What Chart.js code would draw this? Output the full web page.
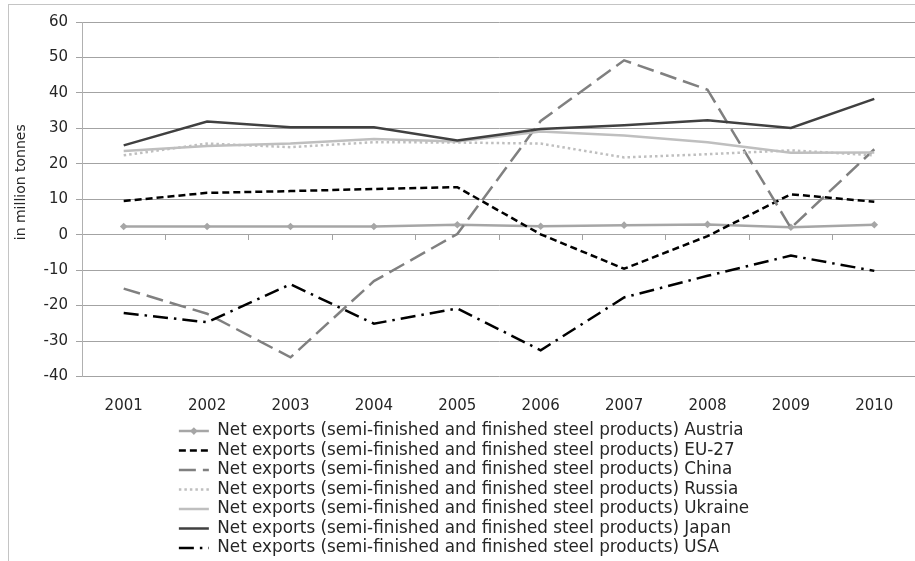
<!DOCTYPE html>
<html>
<head>
<meta charset="utf-8">
<title>Net exports of steel products</title>
<script src="https://cdn.jsdelivr.net/npm/chart.js@4.4.1/dist/chart.umd.min.js"></script>
<style>
  html, body { margin: 0; padding: 0; background: #fff; overflow: hidden; }
  #frame {
    position: absolute; left: 8px; top: 4px;
    width: 930px; height: 570px;
    border-left: 1px solid #c4c4c4; border-top: 1px solid #c4c4c4;
  }
  #frame canvas { display: block; }
</style>
</head>
<body>
<div id="frame"><canvas id="steelChart" width="930" height="570"></canvas></div>
<script>
// values, million tonnes
const years = ["2001", "2002", "2003", "2004", "2005", "2006", "2007", "2008", "2009", "2010"];
const austria = [2.3, 2.3, 2.3, 2.3, 2.8, 2.4, 2.7, 2.9, 2.1, 2.8];
const eu27 = [9.5, 11.8, 12.3, 12.9, 13.4, 0.1, -9.6, -0.4, 11.4, 9.3];
const china = [-15.2, -22.3, -34.6, -13.1, 0.2, 32.1, 49.2, 40.9, 1.9, 24.1];
const russia = [22.4, 25.7, 24.7, 26.1, 26.0, 25.7, 21.8, 22.7, 23.8, 22.4];
const ukraine = [23.6, 25.0, 25.7, 27.0, 26.3, 29.1, 28.0, 26.1, 23.1, 23.2];
const japan = [25.2, 31.9, 30.3, 30.3, 26.6, 29.8, 30.9, 32.3, 30.1, 38.3];
const usa = [-22.1, -24.7, -14.0, -25.1, -20.8, -32.6, -17.7, -11.6, -5.9, -10.2];

const labelPrefix = "Net exports (semi-finished and finished steel products) ";
const yTitle = "in million tonnes";
const yTicks = { min: -40, max: 60, step: 10 };

const gridColor = "#a3a3a3";
const textColor = "#262626";

Chart.defaults.font.family = "'DejaVu Sans', sans-serif";
Chart.defaults.font.size = 15;
Chart.defaults.color = textColor;

function series(name, data, color, dash, extra) {
    return Object.assign({
        label: labelPrefix + name,
        data: data,
        borderColor: color,
        backgroundColor: color,
        borderWidth: 2.5,
        borderDash: dash,
        pointRadius: 0,
        tension: 0,
        fill: false
    }, extra || {});
}

const datasets = [
    series("Austria", austria, "#a6a6a6", [], {
        pointRadius: 3.8, pointStyle: "rectRot", pointBorderWidth: 0, pointBackgroundColor: "#a6a6a6"
    }),
    series("EU-27", eu27, "#000000", [7, 4]),
    series("China", china, "#808080", [17, 7]),
    series("Russia", russia, "#bfbfbf", [2.5, 3]),
    series("Ukraine", ukraine, "#bfbfbf", []),
    series("Japan", japan, "#404040", []),
    series("USA", usa, "#000000", [15, 6, 2.5, 6])
];
// later series sit on top, like the original
datasets.forEach((d, i) => { d.order = datasets.length - i; });

// one legend row per series, rows share the same left edge
const legendRows = {
    id: "legendRows",
    afterLayout(chart) {
        const lg = chart.legend;
        if (!lg || !lg.lineWidths) return;
        const widest = Math.max(...lg.lineWidths);
        lg.lineWidths = lg.lineWidths.map(() => widest);
    },
    afterDraw(chart) {
        const ctx = chart.ctx;

        // axis title, sits a bit above the middle of the plot like the original
        const ys = chart.scales.y;
        ctx.save();
        ctx.translate(ys.left + 9.5, (chart.chartArea.top + chart.chartArea.bottom) / 2 - 17);
        ctx.rotate(-Math.PI / 2);
        ctx.font = "14px 'DejaVu Sans', sans-serif";
        ctx.fillStyle = textColor;
        ctx.textAlign = "center";
        ctx.textBaseline = "middle";
        ctx.fillText(yTitle, 0, 0);
        ctx.restore();

        // diamond marker on the Austria legend line
        const lg = chart.legend;
        const box = lg && lg.legendHitBoxes && lg.legendHitBoxes[0];
        if (!box) return;
        const cx = box.left + lg.options.labels.pointStyleWidth / 2;
        const cy = box.top + box.height / 2;
        const r = 3.8;
        ctx.save();
        ctx.fillStyle = "#a6a6a6";
        ctx.beginPath();
        ctx.moveTo(cx - r, cy);
        ctx.lineTo(cx, cy - r);
        ctx.lineTo(cx + r, cy);
        ctx.lineTo(cx, cy + r);
        ctx.closePath();
        ctx.fill();
        ctx.restore();
    }
};

const chart = new Chart(document.getElementById("steelChart"), {
    type: "line",
    data: { labels: years, datasets: datasets },
    options: {
        responsive: false,
        animation: false,
        layout: { padding: { left: 3, right: 23, top: 10, bottom: 8.5 } },
        scales: {
            x: {
                offset: true,
                grid: { display: false, drawTicks: false },
                border: { display: false },
                ticks: { padding: 21, maxRotation: 0 },
                afterFit: s => { s.height = 43.5; }
            },
            x0: {
                axis: "x",
                type: "category",
                labels: years,
                position: { y: 0 },
                offset: true,
                grid: { drawOnChartArea: false, offset: true, tickLength: 5, color: gridColor },
                border: { color: gridColor },
                ticks: { display: false }
            },
            y: {
                min: yTicks.min,
                max: yTicks.max,
                ticks: { stepSize: yTicks.step, padding: 8 },
                grid: { color: gridColor, tickLength: 6 },
                border: { color: "#b0b0b0" },
                afterFit: s => { s.width = 70; }
            }
        },
        plugins: {
            tooltip: { enabled: false },
            legend: {
                position: "bottom",
                labels: {
                    font: { size: 16.8 },
                    padding: 2.7,
                    usePointStyle: true,
                    pointStyleWidth: 30,
                    generateLabels: c => c.data.datasets.map((d, i) => ({
                        text: d.label,
                        datasetIndex: i,
                        pointStyle: "line",
                        strokeStyle: d.borderColor,
                        fillStyle: d.borderColor,
                        lineWidth: d.borderWidth,
                        lineDash: d.borderDash,
                        fontColor: textColor,
                        hidden: false
                    }))
                }
            }
        }
    },
    plugins: [legendRows]
});
</script>
</body>
</html>
